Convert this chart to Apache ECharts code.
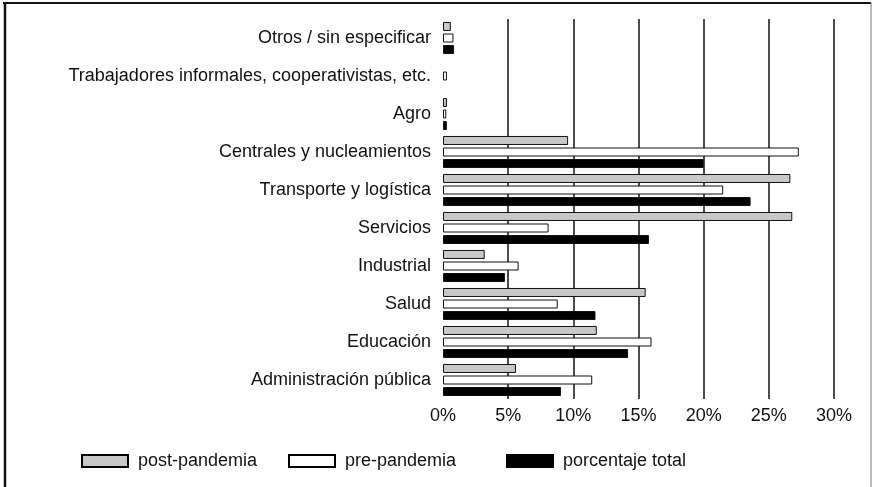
<!DOCTYPE html>
<html>
<head>
    <meta charset="utf-8">
    <title>ECharts</title>
    <script src="https://cdn.jsdelivr.net/npm/echarts@6.0.0/dist/echarts.min.js"></script>
    <style>
        html, body { margin: 0; padding: 0; background: #fff; }
    </style>
</head>
<body>
<div id="main" style="width: 873px;height:487px;"></div>
<script type="text/javascript">
// categories from bottom to top
var categories = [
    'Administración pública', 'Educación', 'Salud', 'Industrial', 'Servicios',
    'Transporte y logística', 'Centrales y nucleamientos', 'Agro',
    'Trabajadores informales, cooperativistas, etc.', 'Otros / sin especificar'
];
// values in %, null = no bar
var postPandemia = [5.6, 11.8, 15.55, 3.2, 26.8, 26.65, 9.6, 0.3, null, 0.6];
var prePandemia = [11.45, 16.0, 8.8, 5.8, 8.1, 21.5, 27.3, 0.25, 0.3, 0.8];
var porcentajeTotal = [9.05, 14.2, 11.7, 4.75, 15.8, 23.6, 20.0, 0.3, null, 0.85];
var xTicks = [0, 5, 10, 15, 20, 25, 30];

var font = 'Liberation Sans, Arial, Helvetica, sans-serif';
var myChart = echarts.init(document.getElementById('main'));

function mkSeries(name, data, color) {
    return {
        name: name,
        type: 'bar',
        data: data,
        barWidth: 9,
        barGap: '28%',
        itemStyle: { color: color, borderColor: '#111', borderWidth: 1 },
        emphasis: { disabled: true }
    };
}

function mkLegend(name, left) {
    return {
        data: [name],
        left: left,
        top: 447,
        icon: 'rect',
        itemWidth: 46,
        itemHeight: 12,
        itemStyle: { borderColor: '#000', borderWidth: 2 },
        textStyle: { fontFamily: font, fontSize: 18, color: '#111', padding: [0, 0, 0, 5] },
        selectedMode: false
    };
}

var option = {
    animation: false,
    backgroundColor: '#fff',
    textStyle: { fontFamily: font },
    grid: { left: 443, right: 39, top: 19, bottom: 88 },
    legend: [
        mkLegend('post-pandemia', 76),
        mkLegend('pre-pandemia', 283),
        mkLegend('porcentaje total', 501)
    ],
    xAxis: {
        type: 'value',
        min: xTicks[0],
        max: xTicks[xTicks.length - 1],
        interval: 5,
        axisLine: { show: false },
        axisTick: { show: false },
        axisLabel: { formatter: '{value}%', fontFamily: font, fontSize: 18, color: '#111', margin: 8 },
        splitLine: { show: true, showMinLine: false, lineStyle: { color: '#111', width: 1.5 } }
    },
    yAxis: {
        type: 'category',
        data: categories,
        axisLine: { show: false },
        axisTick: { show: false },
        axisLabel: { fontFamily: font, fontSize: 18, color: '#111', margin: 12, padding: [0, 0, 6, 0] }
    },
    // first series sits on top of each group
    series: [
        mkSeries('post-pandemia', postPandemia, '#c8c8c8'),
        mkSeries('pre-pandemia', prePandemia, '#fff'),
        mkSeries('porcentaje total', porcentajeTotal, '#000')
    ],
    graphic: [
        { type: 'line', shape: { x1: 3, y1: 3, x2: 871, y2: 3 }, style: { stroke: '#111', lineWidth: 2 } },
        { type: 'line', shape: { x1: 5, y1: 2, x2: 5, y2: 487 }, style: { stroke: '#111', lineWidth: 2.5 } },
        { type: 'line', shape: { x1: 871, y1: 2, x2: 871, y2: 487 }, style: { stroke: '#777', lineWidth: 1 } }
    ]
};

myChart.setOption(option);
</script>
</body>
</html>
